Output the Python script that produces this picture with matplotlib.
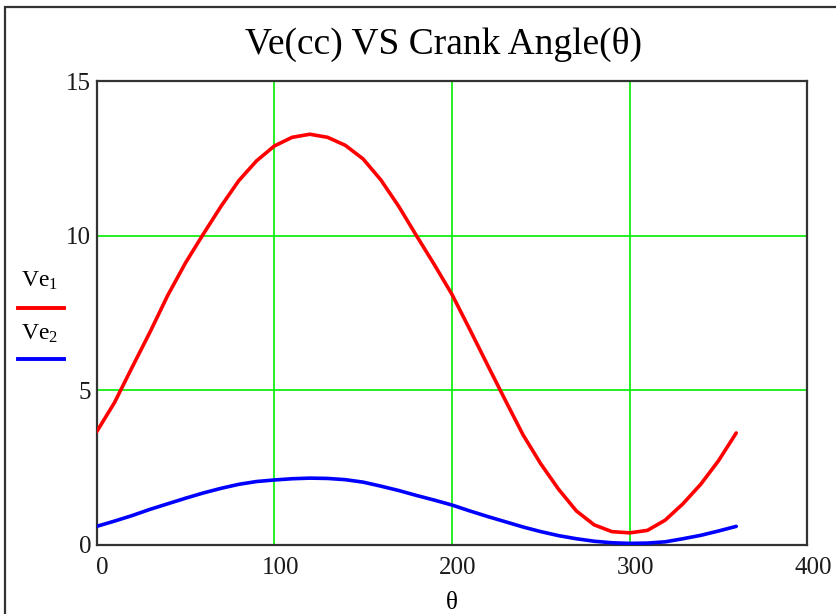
import matplotlib
matplotlib.use('Agg')
import matplotlib.pyplot as plt
from matplotlib.patches import Rectangle
import matplotlib.transforms as mtransforms

plt.rcParams['font.family'] = ['Liberation Serif', 'DejaVu Serif']
plt.rcParams['mathtext.fontset'] = 'custom'
plt.rcParams['mathtext.rm'] = 'Liberation Serif'
plt.rcParams['mathtext.it'] = 'Liberation Serif:italic'

## crank angle (deg) and the two volumes (cc)
theta = [0, 10, 20, 30, 40, 50, 60, 70, 80, 90, 100, 110, 120,
         130, 140, 150, 160, 170, 180, 190, 200, 210, 220, 230, 240,
         250, 260, 270, 280, 290, 300, 310, 320, 330, 340, 350, 360]
ve1 = [3.66, 4.6, 5.75, 6.88, 8.07, 9.12, 10.05, 10.95, 11.78, 12.42, 12.9, 13.18, 13.28,
       13.18, 12.92, 12.48, 11.8, 10.95, 10.0, 9.07, 8.1, 6.97, 5.82, 4.68, 3.56,
       2.62, 1.8, 1.1, 0.65, 0.43, 0.39, 0.47, 0.8, 1.33, 1.96, 2.72, 3.62]
ve2 = [0.6, 0.77, 0.95, 1.15, 1.33, 1.51, 1.68, 1.83, 1.96, 2.05, 2.1, 2.14, 2.16,
       2.15, 2.11, 2.03, 1.9, 1.76, 1.6, 1.45, 1.29, 1.1, 0.92, 0.75, 0.58,
       0.43, 0.3, 0.2, 0.12, 0.07, 0.05, 0.06, 0.1, 0.2, 0.31, 0.45, 0.6]

xticks = [0, 100, 200, 300, 400]
yticks = [0, 5, 10, 15]

fig = plt.figure(figsize=(8.37, 6.14), dpi=100)
ax = fig.add_axes([0.1155, 0.1125, 0.849, 0.7555])

ax.plot(theta, ve1, color='#ff0000', lw=2.6, solid_capstyle='round',
        solid_joinstyle='round', zorder=3)
ax.plot(theta, ve2, color='#0000ff', lw=2.6, solid_capstyle='round',
        solid_joinstyle='round', zorder=3)

ax.set_xlim(0, 400)
ax.set_ylim(0, 15)
ax.set_xticks(xticks)
ax.set_yticks(yticks)
ax.grid(True, color='#00ee00', lw=1.2)
ax.tick_params(axis='both', length=0, labelsize=18, colors='#1a1a1a')
ax.tick_params(axis='x', pad=9)
ax.tick_params(axis='y', pad=4)
for s in ax.spines.values():
    s.set_color('#333333')
    s.set_linewidth(1.6)

# nudge x labels a bit to the right
offset = mtransforms.ScaledTranslation(6 / 100, 0, fig.dpi_scale_trans)
for lab in ax.get_xticklabels():
    lab.set_transform(lab.get_transform() + offset)

ax.set_xlabel('\u03b8', fontsize=18, labelpad=9)
fig.text(0.53, 0.928, 'Ve(cc) VS Crank Angle(\u03b8)', fontsize=27, ha='center', va='center')

## legend on the left
fig.text(0.025, 0.542, r'$\mathrm{Ve}_1$', fontsize=17, ha='left', va='center')
fig.add_artist(plt.Line2D([0.021, 0.077], [0.498, 0.498], color='#ff0000', lw=2.8))
fig.text(0.025, 0.456, r'$\mathrm{Ve}_2$', fontsize=17, ha='left', va='center')
fig.add_artist(plt.Line2D([0.021, 0.077], [0.416, 0.416], color='#0000ff', lw=2.8))

## outer frame
fig.add_artist(Rectangle((5 / 837, -0.05), 1.0, 1.05 - 7 / 614, transform=fig.transFigure,
                         fill=False, ec='#333333', lw=1.6))

fig.savefig('out.png', dpi=100)
